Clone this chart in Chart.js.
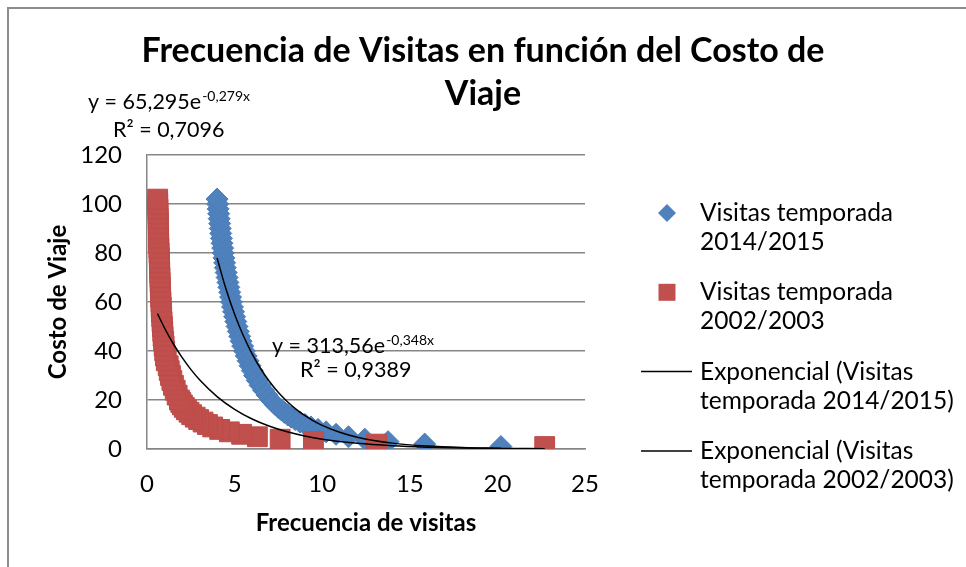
<!DOCTYPE html>
<html>
<head>
<meta charset="utf-8">
<script src="https://cdn.jsdelivr.net/npm/chart.js@4.4.1/dist/chart.umd.min.js"></script>
<style>
  html, body { margin: 0; padding: 0; background: #fff; }
</style>
</head>
<body>
<canvas id="chart" width="966" height="567"></canvas>
<script>
// costo de viaje (eje y) para cada punto
const costo = [1, 2, 3, 4, 5, 6, 7, 8, 9, 10, 11, 12, 13, 14, 15, 16, 17, 18, 19, 20,
  22, 24, 26, 28, 30, 32, 34, 36, 38, 40, 42, 44, 46, 48, 50, 52, 54, 56, 58, 60,
  62, 64, 66, 68, 70, 72, 74, 76, 78, 80, 82, 84, 86, 88, 90, 92, 94, 96, 98, 100, 102]

// frecuencia de visitas (eje x), temporada 2014/2015
const visitas2014 = [20.20, 15.85, 13.76, 12.43, 11.50, 10.79, 10.22, 9.76, 9.36, 9.02,
  8.73, 8.46, 8.23, 8.02, 7.83, 7.66, 7.49, 7.34, 7.21, 7.08,
  6.85, 6.65, 6.45, 6.29, 6.14, 6.01, 5.88, 5.77, 5.66, 5.56,
  5.46, 5.37, 5.29, 5.21, 5.14, 5.07, 5.00, 4.94, 4.88, 4.82,
  4.77, 4.72, 4.67, 4.62, 4.57, 4.52, 4.47, 4.43, 4.39, 4.35,
  4.32, 4.28, 4.25, 4.21, 4.18, 4.15, 4.12, 4.09, 4.06, 4.03, 4.00]

// frecuencia de visitas (eje x), temporada 2002/2003
const visitas2002 = [22.7, 13.1, 9.5, 7.6, 6.3, 5.4, 4.7, 4.15, 3.75, 3.45,
  3.2, 2.95, 2.75, 2.55, 2.4, 2.25, 2.13, 2.02, 1.93, 1.85,
  1.72, 1.61, 1.51, 1.42, 1.34, 1.27, 1.21, 1.10, 1.05, 1.01,
  0.98, 0.95, 0.92, 0.90, 0.88, 0.86, 0.84, 0.82, 0.81, 0.80,
  0.78, 0.77, 0.76, 0.75, 0.74, 0.73, 0.72, 0.71, 0.70, 0.69,
  0.68, 0.67, 0.665, 0.66, 0.65, 0.645, 0.64, 0.63, 0.625, 0.615, 0.61]

// lineas de tendencia exponencial
const tendX2014 = [4.0, 4.5, 5, 5.5, 6, 6.5, 7, 7.5, 8, 8.5, 9, 9.5, 10, 11, 12, 14, 16, 18, 20.2]
const tendY2014 = [77.95, 65.5, 55.04, 46.25, 38.86, 32.65, 27.43, 23.04, 19.37, 16.27, 13.68, 11.5, 9.66, 6.82, 4.82, 2.4, 1.2, 0.6, 0.28]
const tendX2002 = [0.6, 1, 1.5, 2, 2.5, 3, 4, 5, 6, 7, 8, 9, 10, 12, 14, 16, 18, 20, 22.7]
const tendY2002 = [55.23, 49.4, 42.96, 37.37, 32.51, 28.28, 21.39, 16.18, 12.24, 9.26, 7.01, 5.3, 4.01, 2.3, 1.31, 0.75, 0.43, 0.25, 0.12]

const seriesNames = [
  'Visitas temporada 2014/2015',
  'Visitas temporada 2002/2003',
  'Exponencial (Visitas temporada 2014/2015)',
  'Exponencial (Visitas temporada 2002/2003)'
]

const ecuaciones = [
  { base: 'y = 65,295e', exp: '-0,279x', r2: 'R² = 0,7096' },
  { base: 'y = 313,56e', exp: '-0,348x', r2: 'R² = 0,9389' }
]

const FONT = 'Lato'
Chart.defaults.font.family = FONT
Chart.defaults.color = '#000'

function wrapText(ctx, text, maxW) {
  const words = text.split(' ')
  const lines = []
  let cur = ''
  for (const w of words) {
    const test = cur ? cur + ' ' + w : w
    if (ctx.measureText(test).width > maxW && cur) {
      lines.push(cur)
      cur = w
    } else {
      cur = test
    }
  }
  if (cur) lines.push(cur)
  return lines
}

const frame = {
  id: 'frame',
  beforeDraw(chart) {
    const ctx = chart.ctx
    ctx.save()
    ctx.fillStyle = '#fff'
    ctx.fillRect(0, 0, chart.width, chart.height)
    ctx.strokeStyle = '#8c8c8c'
    ctx.lineWidth = 2
    ctx.strokeRect(8, 8, chart.width + 20, chart.height + 20)
    ctx.restore()
  }
}

const legendBox = {
  id: 'legendBox',
  afterDraw(chart) {
    const ctx = chart.ctx
    ctx.save()
    ctx.font = '24.5px ' + FONT
    ctx.fillStyle = '#000'
    ctx.textBaseline = 'middle'
    ctx.textAlign = 'left'
    chart.data.datasets.forEach((ds, i) => {
      const y = 213 + i * 79.3
      const mx = 667
      if (ds.showLine) {
        ctx.strokeStyle = ds.borderColor
        ctx.lineWidth = 1.5
        ctx.beginPath()
        ctx.moveTo(641, y)
        ctx.lineTo(692, y)
        ctx.stroke()
      } else if (ds.pointStyle === 'rectRot') {
        ctx.fillStyle = ds.backgroundColor
        ctx.beginPath()
        ctx.moveTo(mx, y - 9)
        ctx.lineTo(mx + 9, y)
        ctx.lineTo(mx, y + 9)
        ctx.lineTo(mx - 9, y)
        ctx.closePath()
        ctx.fill()
      } else {
        ctx.fillStyle = ds.backgroundColor
        ctx.fillRect(mx - 8.5, y - 8.5, 17, 17)
      }
      ctx.fillStyle = '#000'
      const lines = wrapText(ctx, ds.label, 262)
      lines.forEach((ln, j) => ctx.fillText(ln, 700, y + j * 29))
    })
    ctx.restore()
  }
}

const eqLabels = {
  id: 'eqLabels',
  afterDraw(chart) {
    const ctx = chart.ctx
    const pos = [
      { x: 88, y: 102, rx: 113, ry: 130 },
      { x: 272, y: 346, rx: 300, ry: 370 }
    ]
    ctx.save()
    ctx.fillStyle = '#000'
    ctx.textBaseline = 'middle'
    ctx.textAlign = 'left'
    ecuaciones.forEach((eq, i) => {
      const p = pos[i]
      ctx.font = '21.5px ' + FONT
      ctx.fillText(eq.base, p.x, p.y)
      const w = ctx.measureText(eq.base).width
      ctx.font = '14px ' + FONT
      ctx.fillText(eq.exp, p.x + w + 1, p.y - 6)
      ctx.font = '21.5px ' + FONT
      ctx.fillText(eq.r2, p.rx, p.ry)
    })
    ctx.restore()
  }
}

const datasets = [
  {
    label: seriesNames[0],
    data: costo.map((c, i) => ({ x: visitas2014[i], y: c })),
    pointStyle: 'rectRot',
    pointRadius: 11,
    backgroundColor: '#4F81BD',
    borderColor: '#4A7EBB',
    borderWidth: 1,
    showLine: false,
    order: 2
  },
  {
    label: seriesNames[1],
    data: costo.map((c, i) => ({ x: visitas2002[i], y: c })),
    pointStyle: 'rect',
    pointRadius: 14,
    backgroundColor: '#C0504D',
    borderColor: '#BE4B48',
    borderWidth: 1,
    showLine: false,
    order: 1
  },
  {
    label: seriesNames[2],
    data: tendX2014.map((x, i) => ({ x: x, y: tendY2014[i] })),
    showLine: true,
    pointRadius: 0,
    borderColor: '#000',
    borderWidth: 1.5,
    cubicInterpolationMode: 'monotone',
    order: 0
  },
  {
    label: seriesNames[3],
    data: tendX2002.map((x, i) => ({ x: x, y: tendY2002[i] })),
    showLine: true,
    pointRadius: 0,
    borderColor: '#000',
    borderWidth: 1.5,
    cubicInterpolationMode: 'monotone',
    order: 0
  }
]

new Chart(document.getElementById('chart'), {
  type: 'scatter',
  data: { datasets: datasets },
  options: {
    responsive: false,
    animation: false,
    events: [],
    layout: { padding: 0 },
    plugins: {
      legend: { display: false },
      tooltip: { enabled: false },
      title: {
        display: true,
        text: ['Frecuencia de Visitas en función del Costo de', 'Viaje'],
        color: '#000',
        font: { family: FONT, size: 34, weight: 'bold', lineHeight: 1.265 },
        padding: { top: 29.5, bottom: 39.5 }
      }
    },
    scales: {
      x: {
        type: 'linear',
        min: 0,
        max: 25,
        ticks: { stepSize: 5, padding: 20.5, font: { size: 24 }, color: '#000' },
        grid: { display: false, drawTicks: false },
        border: { display: true, color: '#868686', width: 1.5 },
        title: {
          display: true,
          text: 'Frecuencia de visitas',
          color: '#000',
          font: { size: 24, weight: 'bold' },
          padding: { top: 0, bottom: 29.5 }
        },
        afterFit: s => { s.height = 118 }
      },
      y: {
        type: 'linear',
        min: 0,
        max: 120,
        ticks: { stepSize: 20, padding: 25, font: { size: 24 }, color: '#000' },
        grid: { color: '#868686', lineWidth: 1.5, drawTicks: false },
        border: { display: true, color: '#868686', width: 1.5 },
        title: {
          display: true,
          text: 'Costo de Viaje',
          color: '#000',
          font: { size: 24, weight: 'bold' },
          padding: { top: 43.5, bottom: 0 }
        },
        afterFit: s => { s.width = 147 }
      },
      espacioLeyenda: {
        type: 'linear',
        position: 'right',
        display: true,
        ticks: { display: false },
        grid: { display: false },
        border: { display: false },
        afterFit: s => { s.width = 381 }
      }
    }
  },
  plugins: [frame, legendBox, eqLabels]
})
</script>
</body>
</html>
